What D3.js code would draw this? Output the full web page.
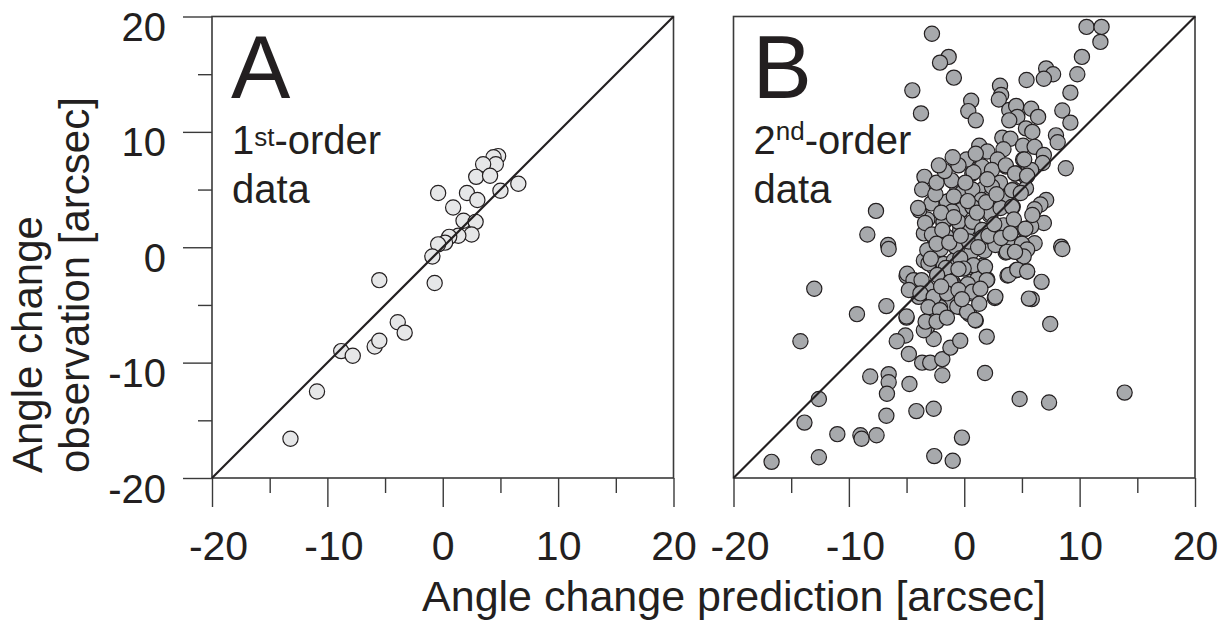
<!DOCTYPE html>
<html>
<head>
<meta charset="utf-8">
<script src="https://cdn.jsdelivr.net/npm/d3@7"></script>
<style>
  body { margin: 0; background: #fff; }
  svg { display: block; font-family: "Liberation Sans", Arial, Helvetica, sans-serif; }
</style>
</head>
<body>
<svg id="chart"></svg>
<script>
// axis ticks shared by both panels
const majorTicks = [-20, -10, 0, 10, 20];
const minorTicks = [-15, -5, 5, 15];
const tickLabels = ['-20', '-10', '0', '10', '20'];

// [prediction, observation] in arcsec
const scatterA = [
  [4.8, 7.9], [4.4, 7.8], [4.6, 7.2], [3.5, 7.2], [2.9, 6.1], [4.1, 6.2], [6.55, 5.5],
  [5.0, 4.9], [2.1, 4.7], [3.0, 4.1], [-0.4, 4.7], [0.9, 3.45], [1.8, 2.3], [2.85, 2.2],
  [2.5, 1.1], [1.35, 1.0], [0.56, 0.9], [0.2, 0.4], [-0.4, 0.25], [-0.9, -0.8], [-0.7, -3.1],
  [-5.5, -2.85], [-3.9, -6.5], [-3.3, -7.4], [-5.9, -8.6], [-5.5, -8.1], [-8.8, -9.0],
  [-7.8, -9.4], [-10.9, -12.5], [-13.2, -16.6]
];

const scatterB = [
  // upper left
  [-2.8, 18.5], [-1.35, 16.5], [-2.1, 16.0], [-0.9, 14.7], [-4.5, 13.6], [-3.75, 11.6],
  [-7.65, 3.15], [-8.4, 1.1], [-6.6, 0.2], [-3.2, 2.4], [-1.8, 2.1], [-2.65, 0.9], [-3.5, 1.2],
  [-1.5, 0.9], [-0.35, 1.5], [-0.6, 5.0], [-1.35, 4.0], [-0.35, 3.2], [-3.9, 3.2],
  // upper right
  [10.6, 19.1], [11.9, 19.1], [11.8, 17.8], [10.2, 16.5], [9.8, 15.0], [7.1, 15.5], [7.7, 15.0],
  [6.9, 14.6], [5.4, 14.5], [9.2, 13.4], [3.1, 14.0], [3.2, 13.2], [3.0, 12.8], [0.6, 12.7],
  [0.35, 11.8], [1.0, 11.0], [8.5, 11.85], [9.2, 10.8], [3.9, 11.9], [4.5, 12.25], [5.8, 12.0],
  [6.4, 11.3], [4.6, 11.3], [3.9, 11.0], [5.35, 10.3], [5.9, 10.0], [3.3, 9.5], [4.0, 9.4],
  [7.95, 9.7], [8.1, 9.1], [1.3, 8.8], [2.0, 8.3], [5.1, 8.8], [6.1, 8.7], [3.4, 8.5], [6.9, 8.0],
  [6.8, 7.3], [5.1, 7.6], [2.9, 7.6], [3.6, 7.0], [8.8, 6.85], [1.45, 7.0], [0.7, 6.4], [2.3, 6.6],
  [5.35, 6.1], [4.5, 6.4], [5.8, 6.7], [3.0, 5.4], [4.3, 5.0], [5.35, 5.1], [1.6, 5.0], [0.6, 5.0],
  [2.3, 4.4], [3.75, 4.25], [0.4, 4.0], [1.45, 3.4], [4.2, 3.5], [7.1, 4.1], [6.6, 3.7], [6.1, 3.3],
  [6.9, 2.1], [2.2, 2.8], [3.5, 1.85], [5.2, 1.55], [5.8, 1.8], [2.75, 0.8], [0.7, 0.8], [1.45, 1.5],
  [6.1, 0.35], [8.4, 0.05], [4.3, 0.35], [0.3, 1.6],
  // lower left
  [-6.55, -0.15], [-13.0, -3.6], [-9.3, -5.8], [-6.75, -5.1], [-14.2, -8.15], [-5.0, -2.5],
  [-4.25, -2.9], [-5.0, -6.1], [-5.1, -7.65], [-5.85, -8.15], [-4.8, -9.25], [-3.65, -10.0],
  [-2.95, -10.0], [-2.65, -7.95], [-3.2, -6.9], [-1.9, -9.7], [-1.2, -8.7], [-0.35, -8.1],
  [-1.9, -11.1], [-8.15, -11.2], [-6.55, -11.0], [-6.55, -11.7], [-6.7, -12.7], [-4.75, -11.85],
  [-12.6, -13.15], [-13.85, -15.2], [-11.0, -16.2], [-9.0, -16.3], [-8.9, -16.6], [-7.6, -16.3],
  [-6.75, -14.6], [-4.15, -14.2], [-2.65, -14.0], [-16.7, -18.6], [-12.6, -18.2], [-2.6, -18.1],
  [-1.0, -18.5], [-0.2, -16.5],
  [-3.5, -1.15], [-2.65, -1.7], [-1.8, -1.45], [-0.9, -1.15], [-3.25, -3.5], [-2.65, -4.3],
  [-1.8, -3.75], [-0.9, -3.2], [-1.2, -4.9], [-0.35, -5.2], [-2.1, -5.2], [-3.95, -4.3],
  [-4.4, -3.75], [-2.95, -6.2], [-3.5, -7.2], [-1.1, -2.9], [-0.05, -3.75], [-2.1, -2.6],
  // lower right
  [8.5, -0.15], [3.6, -0.45], [5.05, -0.7], [4.5, -2.0], [3.75, -2.45], [5.45, -2.1], [6.7, -3.0],
  [2.0, -2.8], [0.7, -4.0], [2.65, -4.4], [5.85, -4.5], [1.0, -6.35], [7.45, -6.65], [1.95, -7.75],
  [1.8, -10.9], [4.8, -13.15], [7.35, -13.45], [13.9, -12.6], [0.45, -5.8], [0.6, -0.45],
  [1.75, -0.3], [0.85, -1.75], [1.6, -1.6], [0.3, -1.75], [1.15, -2.75], [0.3, -3.2],
  // dense core
  [-3.45, 6.1], [-3.65, 5.0], [-1.1, 5.8], [1.55, 7.0], [0.8, 6.5], [2.4, 6.7], [3.6, 7.1],
  [5.2, 7.6], [4.4, 6.4], [5.45, 6.2], [3.1, 5.6], [2.4, 5.25], [4.15, 4.95], [4.9, 4.7],
  [-0.2, 4.7], [0.7, 5.0], [1.5, 4.1], [-2.85, 3.8], [-1.5, 3.95], [-4.0, 3.4], [-0.3, 3.2],
  [-1.05, 3.1], [0.7, 3.5], [2.3, 2.9], [3.15, 3.4], [4.15, 3.5], [-3.4, 2.1], [-1.8, 2.2],
  [-0.5, 2.2], [-2.8, 1.1], [-1.9, 1.5], [0.7, 2.2], [1.55, 1.5], [3.4, 1.9], [4.3, 2.4],
  [5.3, 1.6], [5.9, 2.8], [-3.2, -0.25], [-2.05, -0.15], [-0.77, 0.05], [0.4, 0.5], [1.55, 0.85],
  [2.7, 0.2], [3.7, -0.4], [5.0, 0.3], [5.45, -0.2], [5.15, -0.8], [-3.1, -1.4], [-1.6, -1.8],
  [-0.35, -0.95], [0.8, -1.55], [1.8, -1.7], [-4.95, -2.3], [-4.4, -2.85], [-3.7, -2.85],
  [-2.35, -2.4], [-1.2, -3.0], [-0.05, -1.85], [1.95, -2.85], [3.85, -2.4], [4.6, -1.95],
  [5.45, -2.1], [-4.8, -3.7], [-3.8, -4.0], [-2.65, -4.3], [-1.5, -4.0], [-0.5, -3.7], [0.7, -3.85],
  [2.7, -4.3], [5.6, -4.45], [-3.1, -5.2], [-2.1, -5.45], [-0.6, -5.15], [0.25, -5.6], [-5.0, -6.0],
  [-3.35, -6.45], [-2.4, -6.45], [0.95, -6.3],
  [-2.5, 4.6], [-2.0, 3.0], [-0.9, 4.4], [0.1, 5.6], [0.3, 4.0], [-0.9, 2.6], [1.1, 3.0], [1.9, 3.9],
  [2.0, 5.9], [2.8, 4.6], [-2.4, 0.3], [-1.3, 0.4], [-0.3, 1.0], [1.2, 0.0], [2.1, 1.0], [2.6, 2.0],
  [3.2, 0.8], [4.0, 1.2], [4.4, -0.4], [-2.9, -1.0], [-0.5, -1.9], [1.4, -3.6], [-2.0, -3.4],
  [-0.2, -4.5], [1.3, -4.9], [-1.5, -6.1], [-2.4, 5.6], [-1.7, 6.6], [0.2, 7.6], [1.0, 8.1],
  [-0.5, 7.1], [-2.2, 7.1], [-1.0, 7.8]
];

const svg = d3.select('#chart')
  .attr('width', 1223)
  .attr('height', 624);

const ink = '#231f20';
const frameColor = '#3a3a3a';

class ScatterPanel {

  constructor(_config, _data, _letter, _order, _suffix) {
    this.config = {
      left: _config.left,
      top: _config.top || 16.5,
      size: _config.size || 461.5,
      fill: _config.fill,
      showY: _config.showY,
      supRise: _config.supRise || 8
    }
    this.data = _data;
    this.letter = _letter;
    this.order = _order;
    this.suffix = _suffix;
    this.initVis();
  }

  initVis() {
    let vis = this;
    let c = vis.config;

    vis.g = svg.append('g')
      .attr('transform', `translate(${c.left}, ${c.top})`);

    vis.xScale = d3.scaleLinear().domain([-20, 20]).range([0, c.size]);
    vis.yScale = d3.scaleLinear().domain([-20, 20]).range([c.size, 0]);

    vis.renderVis();
  }

  renderVis() {
    let vis = this;
    let c = vis.config;

    // bottom axis: long major ticks, short minor ticks
    let xMajor = vis.g.append('g')
      .attr('transform', `translate(0, ${c.size})`)
      .call(d3.axisBottom(vis.xScale).tickValues(majorTicks).tickSize(29)
        .tickFormat((d, i) => tickLabels[i]));
    xMajor.selectAll('text')
      .attr('y', 82)
      .attr('dy', 0)
      .attr('dx', d => d < 0 ? 6 : 0)
      .style('font-size', '41px')
      .style('fill', ink);

    vis.g.append('g')
      .attr('transform', `translate(0, ${c.size})`)
      .call(d3.axisBottom(vis.xScale).tickValues(minorTicks).tickSize(15).tickFormat(''));

    if (c.showY) {
      let yMajor = vis.g.append('g')
        .call(d3.axisLeft(vis.yScale).tickValues(majorTicks).tickSize(29)
          .tickFormat((d, i) => tickLabels[i]));
      yMajor.selectAll('text')
        .attr('x', -46)
        .attr('dy', '0.6em')
        .style('font-size', '40px')
        .style('fill', ink);

      vis.g.append('g')
        .call(d3.axisLeft(vis.yScale).tickValues(minorTicks).tickSize(14).tickFormat(''));
    }

    vis.g.selectAll('.domain').remove();
    vis.g.selectAll('.tick line')
      .attr('stroke', frameColor)
      .attr('stroke-width', 1.4);

    vis.g.append('rect')
      .attr('width', c.size)
      .attr('height', c.size)
      .attr('fill', 'none')
      .attr('stroke', frameColor)
      .attr('stroke-width', 1.6);

    vis.g.selectAll('circle')
      .data(vis.data)
      .join('circle')
      .attr('cx', d => vis.xScale(d[0]))
      .attr('cy', d => vis.yScale(d[1]))
      .attr('r', 7.6)
      .attr('fill', c.fill)
      .attr('stroke', ink)
      .attr('stroke-width', 1.2);

    // 1:1 line
    vis.g.append('line')
      .attr('x1', vis.xScale(-20))
      .attr('y1', vis.yScale(-20))
      .attr('x2', vis.xScale(20))
      .attr('y2', vis.yScale(20))
      .attr('stroke', ink)
      .attr('stroke-width', 2.2);

    vis.g.append('text')
      .attr('x', 19)
      .attr('y', 81)
      .style('font-size', '89px')
      .style('fill', ink)
      .text(vis.letter);

    let label = vis.g.append('text')
      .attr('x', 20)
      .attr('y', 137)
      .style('font-size', '40px')
      .style('fill', ink);
    label.append('tspan').text(vis.order);
    label.append('tspan')
      .attr('dy', -c.supRise)
      .style('font-size', '26px')
      .text(vis.suffix);
    label.append('tspan')
      .attr('dy', c.supRise)
      .text('-order');

    vis.g.append('text')
      .attr('x', 20)
      .attr('y', 186)
      .style('font-size', '40px')
      .style('fill', ink)
      .text('data');
  }
}

new ScatterPanel({left: 212, fill: '#e6e7e8', showY: true, supRise: 8}, scatterA, 'A', '1', 'st');
new ScatterPanel({left: 733.5, fill: '#a7a9ac', showY: false, supRise: 14}, scatterB, 'B', '2', 'nd');

// axis titles
svg.append('text')
  .attr('x', 734)
  .attr('y', 611)
  .attr('text-anchor', 'middle')
  .style('font-size', '43px')
  .style('fill', ink)
  .text('Angle change prediction [arcsec]');

['Angle change', 'observation [arcsec]'].forEach((line, i) => {
  svg.append('text')
    .attr('transform', `translate(${42 + i * 47}, 473) rotate(-90)`)
    .attr('text-anchor', 'start')
    .style('font-size', '42px')
    .style('fill', ink)
    .text(line);
});
</script>
</body>
</html>
